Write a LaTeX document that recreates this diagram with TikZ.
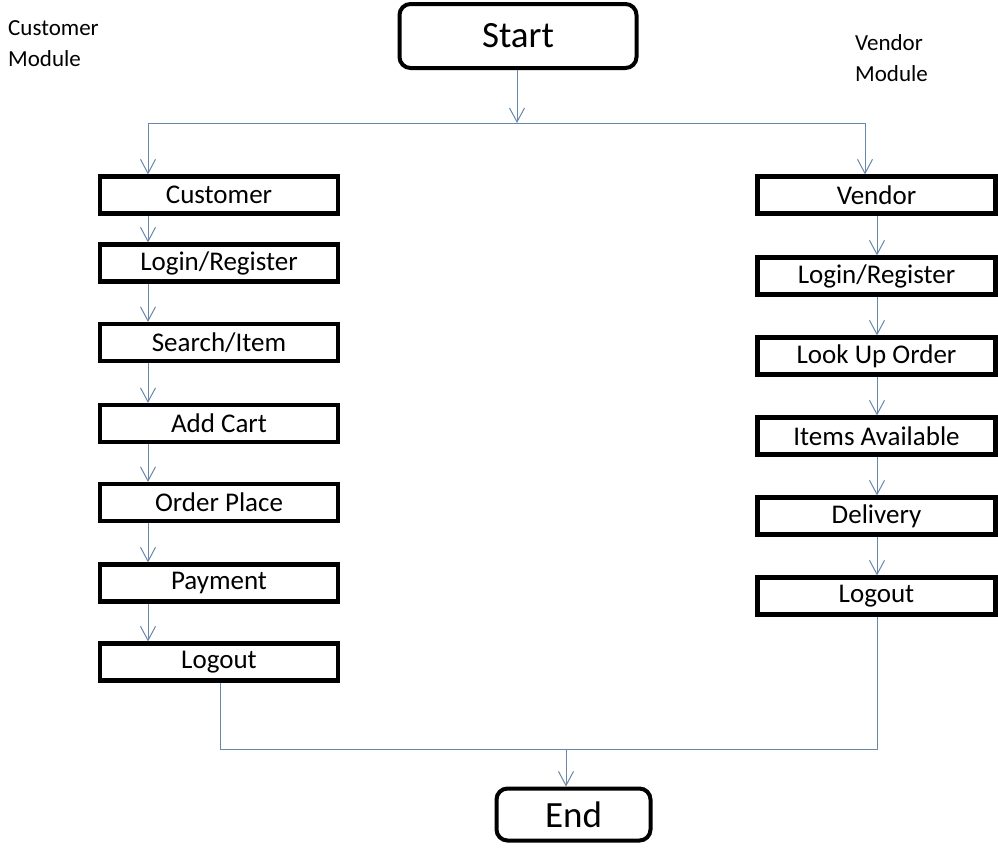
\documentclass[tikz,border=0pt]{standalone}
\usepackage{fontspec}
\setmainfont{Carlito}
\usetikzlibrary{arrows.meta}
\definecolor{conn}{RGB}{105,135,170}
\begin{document}
\begin{tikzpicture}[x=1pt,y=-1pt,
  box/.style={draw=black,line width=4.2pt,rectangle,inner sep=0pt,minimum width=238pt,minimum height=37pt,font=\fontsize{27}{30}\selectfont},
  term/.style={draw=black,line width=4pt,rectangle,rounded corners=11pt,inner sep=0pt,font=\fontsize{37}{40}\selectfont},
  lbl/.style={align=left,inner sep=0pt,anchor=west,font=\fontsize{23}{31}\selectfont},
  conline/.style={draw=conn,line width=1pt},
  arr/.style={conline,-{Straight Barb[length=14pt,width=15pt,line width=1pt]}}]
\useasboundingbox (0,0) rectangle (998,847);
% terminals
\node[term,minimum width=237pt,minimum height=64pt] (start) at (518,36) {Start};
\node[term,minimum width=154pt,minimum height=52pt] (end) at (573.5,814.5) {End};
% module labels
\node[lbl] (cm) at (8,44) {Customer\\Module};
\node[lbl] (vm) at (855,58) {Vendor\\Module};
% left column
\node[box] (c1) at (219,195) {Customer};
\node[box] (c2) at (219,263) {Login/Register};
\node[box] (c3) at (219,342.5) {Search/Item};
\node[box] (c4) at (219,423.5) {Add Cart};
\node[box] (c5) at (219,502.5) {Order Place};
\node[box] (c6) at (219,583) {Payment};
\node[box] (c7) at (219,662) {Logout};
% right column
\node[box] (v1) at (876.5,195) {Vendor};
\node[box] (v2) at (876.5,276) {Login/Register};
\node[box] (v3) at (876.5,356) {Look Up Order};
\node[box] (v4) at (876.5,436) {Items Available};
\node[box] (v5) at (876.5,516) {Delivery};
\node[box] (v6) at (876.5,596) {Logout};
% coordinates
\coordinate (split) at (517,123);
\coordinate (sl) at (148,123);
\coordinate (sr) at (865,123);
\coordinate (jl) at (220,749);
\coordinate (jr) at (877,749);
\coordinate (jm) at (566,749);
% start split
\draw[arr] (start.south -| split) -- (split);
\draw[conline] (sl) -- (sr);
\draw[arr] (sl) -- (sl |- c1.north);
\draw[arr] (sr) -- (sr |- v1.north);
% left chain
\foreach \a/\b in {c1/c2,c2/c3,c3/c4,c4/c5,c5/c6,c6/c7}
  \draw[arr] (\a.south -| sl) -- (\b.north -| sl);
% right chain
\foreach \a/\b in {v1/v2,v2/v3,v3/v4,v4/v5,v5/v6}
  \draw[arr] (\a.south -| jr) -- (\b.north -| jr);
% join
\draw[conline] (c7.south -| jl) -- (jl) -- (jr) -- (v6.south -| jr);
\draw[arr] (jm) -- (jm |- end.north);
\end{tikzpicture}
\end{document}
